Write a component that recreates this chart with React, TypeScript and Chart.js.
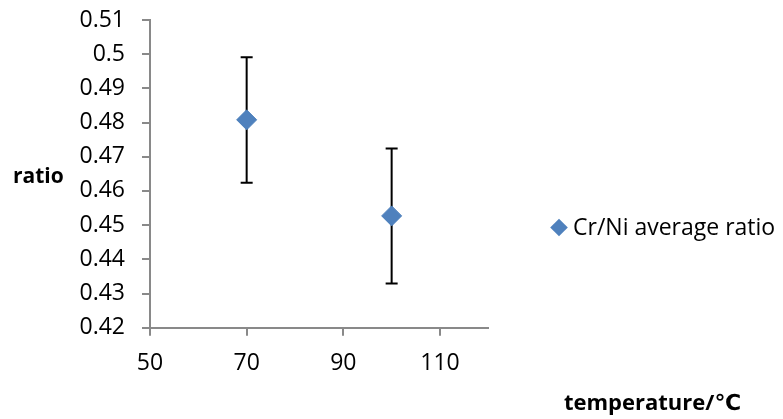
import React, { useEffect, useRef } from 'react';
import { Chart, registerables } from 'chart.js';

Chart.register(...registerables);

const seriesName = 'Cr/Ni average ratio';
const temperatures = [70, 100];
const ratios = [0.4808, 0.4527];
const errorPlus = [0.0183, 0.0197];
const errorMinus = [0.0184, 0.0198];
const xTicks = [50, 70, 90, 110];
const yTicks = [0.42, 0.43, 0.44, 0.45, 0.46, 0.47, 0.48, 0.49, 0.5, 0.51];
const yTickLabels = ['0.42', '0.43', '0.44', '0.45', '0.46', '0.47', '0.48', '0.49', '0.5', '0.51'];
const xTitle = 'temperature/℃';
const yTitle = 'ratio';

const FONT = "'Open Sans', 'DejaVu Sans', sans-serif";
const MARKER = '#4F81BD';
const AXIS = '#898989';

const errorBarPlugin = {
  id: 'errorBars',
  beforeDatasetsDraw(chart: any) {
    const { ctx } = chart;
    const xs = chart.scales.x;
    const ys = chart.scales.y;
    ctx.save();
    ctx.strokeStyle = '#000';
    ctx.lineWidth = 2;
    temperatures.forEach((t, i) => {
      const px = xs.getPixelForValue(t);
      const top = ys.getPixelForValue(ratios[i] + errorPlus[i]);
      const bot = ys.getPixelForValue(ratios[i] - errorMinus[i]);
      ctx.beginPath();
      ctx.moveTo(px, top);
      ctx.lineTo(px, bot);
      ctx.moveTo(px - 6, top);
      ctx.lineTo(px + 6, top);
      ctx.moveTo(px - 6, bot);
      ctx.lineTo(px + 6, bot);
      ctx.stroke();
    });
    ctx.restore();
  },
};

const labelsPlugin = {
  id: 'labelsAndLegend',
  afterDraw(chart: any) {
    const { ctx } = chart;
    ctx.save();
    // legend
    const cx = 559;
    const cy = 227.5;
    const r = 8.8;
    ctx.fillStyle = MARKER;
    ctx.beginPath();
    ctx.moveTo(cx - r, cy);
    ctx.lineTo(cx, cy - r);
    ctx.lineTo(cx + r, cy);
    ctx.lineTo(cx, cy + r);
    ctx.closePath();
    ctx.fill();
    ctx.fillStyle = '#000';
    ctx.font = `23px ${FONT}`;
    ctx.textAlign = 'left';
    ctx.textBaseline = 'alphabetic';
    ctx.fillText(seriesName, 573, 235);
    // axis titles
    ctx.font = `bold 21px ${FONT}`;
    ctx.fillText(yTitle, 13, 183);
    ctx.font = `bold 22px ${FONT}`;
    ctx.textAlign = 'center';
    ctx.fillText(xTitle, 652.5, 410);
    ctx.restore();
  },
};

export default function App() {
  const ref = useRef<HTMLCanvasElement | null>(null);
  useEffect(() => {
    if (!ref.current) return;
    const chart = new Chart(ref.current, {
      type: 'scatter',
      data: {
        datasets: [
          {
            label: seriesName,
            data: temperatures.map((t, i) => ({ x: t, y: ratios[i] })),
            pointStyle: 'rectRot',
            pointRadius: 10,
            pointHoverRadius: 10,
            backgroundColor: MARKER,
            borderColor: '#4A7EBB',
            borderWidth: 1,
          },
        ],
      },
      options: {
        animation: false,
        responsive: true,
        maintainAspectRatio: false,
        layout: { padding: { top: 20, right: 294.7, left: 0, bottom: 0 } },
        plugins: {
          legend: { display: false },
          tooltip: { enabled: false },
        },
        scales: {
          x: {
            type: 'linear',
            min: 50,
            max: 120,
            afterBuildTicks: (scale: any) => {
              scale.ticks = xTicks.map((v) => ({ value: v }));
            },
            afterFit: (scale: any) => {
              scale.height = 91.3;
              scale.paddingLeft = 0;
              scale.paddingRight = 0;
            },
            grid: {
              drawOnChartArea: false,
              drawTicks: true,
              tickLength: 8,
              color: AXIS,
              lineWidth: 2,
            },
            border: { display: true, color: AXIS, width: 2 },
            ticks: {
              color: '#000',
              padding: 14,
              maxRotation: 0,
              autoSkip: false,
              font: { family: FONT, size: 23 },
            },
          },
          y: {
            type: 'linear',
            min: 0.42,
            max: 0.51,
            afterBuildTicks: (scale: any) => {
              scale.ticks = yTicks.map((v) => ({ value: v }));
            },
            afterFit: (scale: any) => {
              scale.width = 150;
              scale.paddingTop = 0;
              scale.paddingBottom = 0;
            },
            grid: {
              drawOnChartArea: false,
              drawTicks: true,
              tickLength: 8,
              color: AXIS,
              lineWidth: 2,
            },
            border: { display: true, color: AXIS, width: 2 },
            ticks: {
              color: '#000',
              padding: 17,
              autoSkip: false,
              font: { family: FONT, size: 23 },
              callback: (v: any) => {
                const idx = yTicks.findIndex((t) => Math.abs(t - Number(v)) < 1e-9);
                return idx >= 0 ? yTickLabels[idx] : '';
              },
            },
          },
        },
      },
      plugins: [errorBarPlugin, labelsPlugin],
    });
    return () => chart.destroy();
  }, []);
  return (
    <div style={{ position: 'fixed', left: 0, top: 0, width: '100vw', height: '100vh' }}>
      <canvas ref={ref} />
    </div>
  );
}
